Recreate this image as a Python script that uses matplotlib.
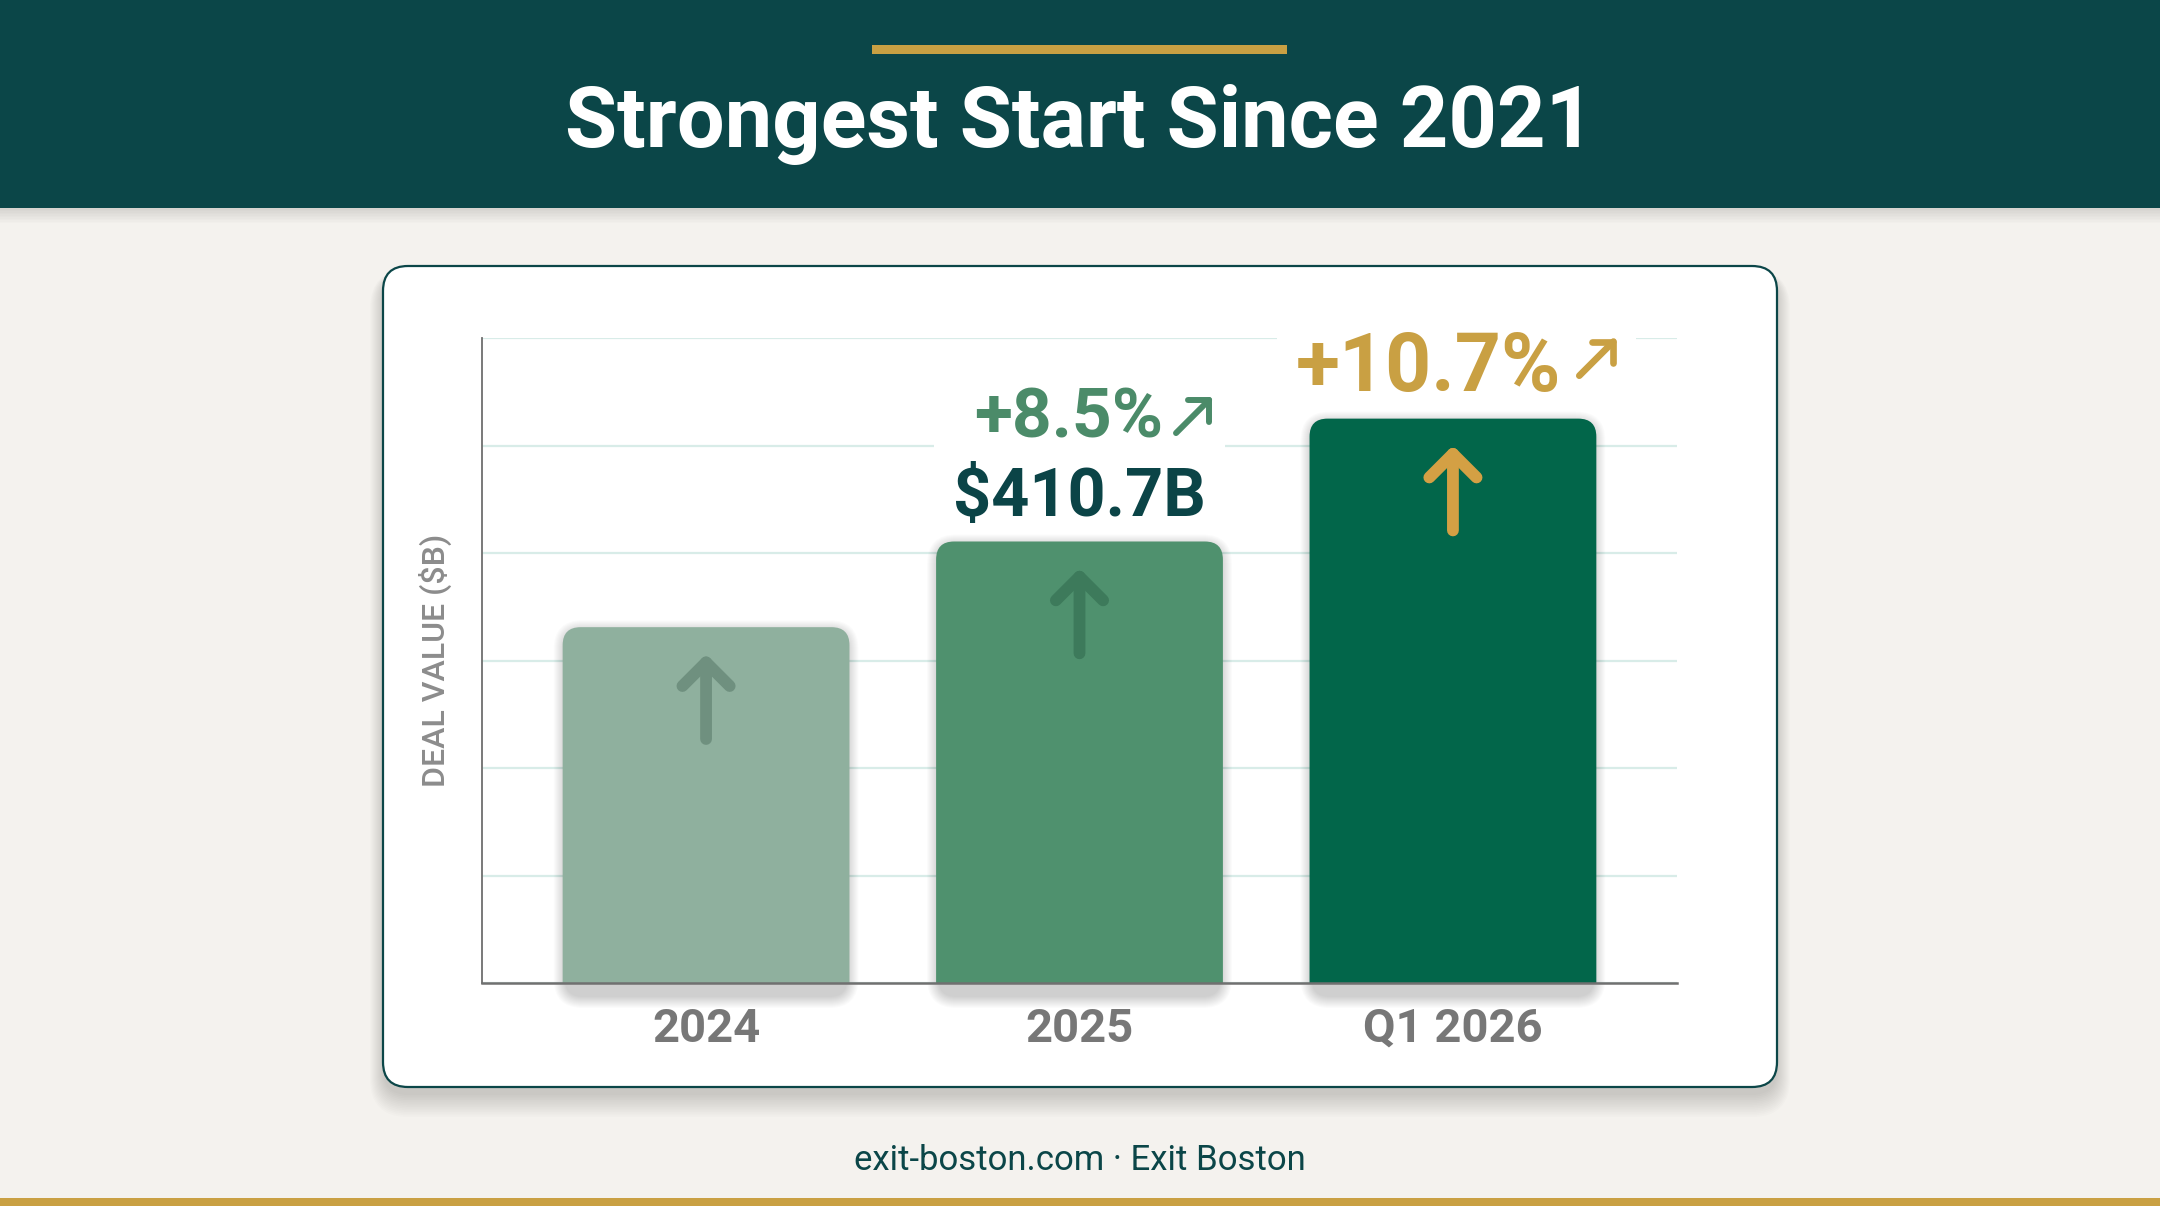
import matplotlib.pyplot as plt
from matplotlib.patches import FancyBboxPatch, Rectangle
from matplotlib.transforms import offset_copy
import numpy as np

# data
categories = ["2024", "2025", "Q1 2026"]
deal_values = [331, 410.7, 525]
bar_colors = ["#8FB09E", "#4F916E", "#02664A"]
icon_colors = ["#6F907F", "#3D7A5B", "#D4A044"]
value_label = "$410.7B"
growth_labels = ["+8.5%", "+10.7%"]
growth_colors = ["#4B8B69", "#C9A043"]
title = "Strongest Start Since 2021"
footer = "exit-boston.com · Exit Boston"
y_title = "DEAL VALUE ($B)"
y_max = 600
grid_step = 100

W, H = 2160, 1206
DARK = "#0B4648"
plt.rcParams['font.family'] = ['Roboto', 'DejaVu Sans']

fig = plt.figure(figsize=(W / 100, H / 100), dpi=100)
fig.patch.set_facecolor("#F4F2EE")

# background layer in pixel units (y down)
bg = fig.add_axes([0, 0, 1, 1])
bg.set_xlim(0, W)
bg.set_ylim(H, 0)
bg.axis("off")

# header band + gold rule
bg.add_patch(Rectangle((0, 0), W, 208, color=DARK, lw=0, zorder=3))
for k in range(10):
    bg.add_patch(Rectangle((0, 208), W, 1.5 + k * 1.5, color="black", alpha=0.01, lw=0, zorder=1))
bg.add_patch(Rectangle((872, 45), 415, 9, color="#C9A043", lw=0, zorder=4))
bg.text(W / 2, 147, title, ha="center", va="baseline", color="white",
        fontsize=61, fontweight="bold", zorder=5)

# bottom gold strip
bg.add_patch(Rectangle((0, 1198), W, 8, color="#C9A043", lw=0, zorder=3))

# card with soft shadow
cx, cy, cw, ch = 383, 266, 1394, 821
for k in range(14):
    bg.add_patch(FancyBboxPatch((cx - k, cy + 8 - k * 0.3), cw + 2 * k, ch + 2 * k,
                                boxstyle=f"round,pad=0,rounding_size={25 + k}",
                                fc="black", ec="none", alpha=0.012, zorder=1))
bg.add_patch(FancyBboxPatch((cx, cy), cw, ch, boxstyle="round,pad=0,rounding_size=25",
                            fc="white", ec=DARK, lw=1.6, zorder=2))

bg.text(W / 2, 1170, footer, ha="center", va="baseline", color=DARK, fontsize=25, zorder=5)

# chart axes
L, R, T, B = 482, 1677, 338, 983
ax = fig.add_axes([L / W, (H - B) / H, (R - L) / W, (B - T) / H], zorder=5)
ax.patch.set_alpha(0)
x = np.arange(len(categories))
ax.set_xlim(-0.6, len(categories) - 0.4)
ax.set_ylim(0, y_max)

px_x = (R - L) / (len(categories) + 0.2)   # pixels per x unit
px_y = (B - T) / y_max                      # pixels per y unit

bars = ax.bar(x, deal_values, width=0.768, color=bar_colors, zorder=2)
for bar, col in zip(bars, bar_colors):
    bar.set_visible(False)
    bx, bw, bh = bar.get_x(), bar.get_width(), bar.get_height()
    # soft drop shadow
    for k in range(12):
        ax.add_patch(FancyBboxPatch((bx - (k - 2) / px_x, -(14 + k) / px_y),
                                    bw + 2 * (k - 2) / px_x, bh + (14 + k) / px_y - 4 / px_y + k / px_y,
                                    boxstyle=f"round,pad=0,rounding_size={(18 + k) / px_x}",
                                    mutation_aspect=px_x / px_y, fc="black", ec="none",
                                    alpha=0.014, zorder=1.5, clip_on=False))
    ax.add_patch(FancyBboxPatch((bx, -30), bw, bh + 30,
                                boxstyle=f"round,pad=0,rounding_size={18 / px_x}",
                                mutation_aspect=px_x / px_y, fc=col, ec="none", zorder=2))

# up-arrow icons inside the bars
for xi, v, c in zip(x, deal_values, icon_colors):
    ax.annotate("", xy=(xi, v - 25), xytext=(xi, v - 104),
                arrowprops=dict(arrowstyle="->,head_length=0.85,head_width=0.85",
                                mutation_scale=20, lw=8.5, color=c,
                                capstyle="round", joinstyle="round",
                                shrinkA=0, shrinkB=0), zorder=3)

# axes styling
ax.set_axisbelow(True)
ax.set_yticks(np.arange(0, y_max + 1, grid_step))
ax.yaxis.grid(True, color="#D8ECE8", lw=1.6)
ax.tick_params(axis="y", length=0, labelleft=False)
ax.set_xticks(x, categories)
ax.tick_params(axis="x", length=0, pad=17, labelsize=34, labelcolor="#777777")
for lbl in ax.get_xticklabels():
    lbl.set_fontweight("semibold")
for s in ["top", "right"]:
    ax.spines[s].set_visible(False)
ax.spines["left"].set_color("#6E6E6E")
ax.spines["left"].set_linewidth(1.3)
ax.spines["bottom"].set_color("#707070")
ax.spines["bottom"].set_linewidth(1.8)
ax.spines["bottom"].set_zorder(4)
ax.set_ylabel(y_title, fontsize=23, color="#8C8C8C", fontweight="medium")
ax.yaxis.set_label_coords(-0.025, 0.5)

# white gaps behind the growth labels
ax.add_patch(Rectangle((x[1] - 0.39, deal_values[1] + 70), 0.78, 80, fc="white", ec="none", zorder=1.2))
ax.add_patch(Rectangle((x[2] - 0.47, deal_values[2] + 45), 0.96, 60, fc="white", ec="none",
                       zorder=1.2, clip_on=False))

# value label on 2025
ax.text(x[1], deal_values[1] + 23.7, value_label, ha="center", va="baseline",
        fontsize=48, fontweight="bold", color="#0B4447", zorder=4)

# growth labels with small diagonal arrows
growth_spec = [(x[1] + 0.225, deal_values[1] + 97, 50, (35, 29), (9, 3), 4.3),
               (x[2] + 0.29, deal_values[2] + 25.7, 58, (40, 38), (13, 11), 4.8)]
for (gx, gy, fs, tip, tail, lw), txt, col in zip(growth_spec, growth_labels, growth_colors):
    ax.text(gx, gy, txt, ha="right", va="baseline", fontsize=fs, fontweight="bold",
            color=col, zorder=4)
    ax.annotate("", xy=(gx, gy), xycoords=offset_copy(ax.transData, fig=fig, x=tip[0], y=tip[1], units="points"),
                xytext=(gx, gy), textcoords=offset_copy(ax.transData, fig=fig, x=tail[0], y=tail[1], units="points"),
                arrowprops=dict(arrowstyle="->,head_length=0.55,head_width=0.55",
                                mutation_scale=20, lw=lw, color=col,
                                capstyle="round", joinstyle="round",
                                shrinkA=0, shrinkB=0), zorder=4, annotation_clip=False)

fig.savefig("out.png", dpi=100, facecolor=fig.get_facecolor())
